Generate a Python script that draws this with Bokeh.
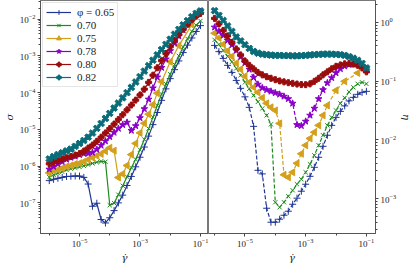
import numpy as np
from bokeh.plotting import figure
from bokeh.layouts import row
from bokeh.models import FixedTicker, Range1d
from bokeh.embed import file_html
from bokeh.resources import INLINE

# shear rates (common grid) and the sparser grid of phi = 0.75
gamma = [1.00e-6, 1.39e-6, 1.93e-6, 2.68e-6, 3.73e-6, 5.18e-6, 7.20e-6,
         1.00e-5, 1.39e-5, 1.93e-5, 2.68e-5, 3.73e-5, 5.18e-5, 7.20e-5,
         1.00e-4, 1.39e-4, 1.93e-4, 2.68e-4, 3.73e-4, 5.18e-4, 7.20e-4,
         1.00e-3, 1.39e-3, 1.93e-3, 2.68e-3, 3.73e-3, 5.18e-3, 7.20e-3,
         1.00e-2, 1.39e-2, 1.93e-2, 2.68e-2, 3.73e-2, 5.18e-2, 7.20e-2,
         1.00e-1]
gamma_075 = [1.00e-6, 1.39e-6, 1.93e-6, 2.68e-6, 3.73e-6, 5.18e-6, 7.20e-6,
             1.00e-5, 1.39e-5, 1.93e-5, 2.68e-5, 3.73e-5, 5.18e-5, 7.20e-5,
             1.00e-4, 1.39e-4, 1.93e-4, 2.68e-4, 3.73e-4, 5.18e-4, 7.20e-4,
             1.00e-3, 1.39e-3, 1.93e-3, 2.68e-3, 3.73e-3, 5.18e-3,
             1.00e-2, 1.93e-2, 5.18e-2]

# viscosity eta (right panel); stress sigma = gamma * eta (left panel)
eta_065 = [0.406, 0.318, 0.244, 0.186, 0.141, 0.103, 0.0755, 0.0541, 0.0358, 0.0170,
           0.00304, 0.00264, 0.000687, 0.000397, 0.000397, 0.000447, 0.000522, 0.000611,
           0.000803, 0.00102, 0.00134, 0.00176, 0.00240, 0.00342, 0.00506, 0.00778,
           0.0120, 0.0177, 0.0242, 0.0306, 0.0380, 0.0462, 0.0530, 0.0597, 0.0645, 0.0671]
eta_070 = [0.504, 0.423, 0.334, 0.264, 0.213, 0.165, 0.126, 0.0955, 0.0740, 0.0574,
           0.0445, 0.0344, 0.0262, 0.0184, 0.000869, 0.000714, 0.000869, 0.00110,
           0.00139, 0.00176, 0.00214, 0.00281, 0.00385, 0.00547, 0.00809, 0.0120,
           0.0177, 0.0242, 0.0318, 0.0419, 0.0520, 0.0658, 0.0785, 0.0900, 0.0955, 0.0900]
eta_075 = [0.655, 0.545, 0.423, 0.327, 0.264, 0.202, 0.159, 0.121, 0.0955, 0.0785,
           0.0645, 0.0520, 0.0419, 0.0358, 0.0318, 0.0191, 0.00255, 0.00231, 0.00281,
           0.00400, 0.00581, 0.00809, 0.0106, 0.0135, 0.0177, 0.0262, 0.0387,
           0.0698, 0.0993, 0.138]
eta_078 = [0.828, 0.703, 0.601, 0.494, 0.414, 0.334, 0.259, 0.205, 0.159, 0.116,
           0.0883, 0.0769, 0.0711, 0.0671, 0.0632, 0.0597, 0.0551, 0.0500, 0.0419, 0.0181,
           0.0174, 0.0207, 0.0262, 0.0344, 0.0500, 0.0711, 0.0935, 0.114, 0.138, 0.162,
           0.180, 0.191, 0.195, 0.193, 0.182, 0.162]
eta_080 = [1.17, 0.942, 0.731, 0.589, 0.457, 0.354, 0.280, 0.221, 0.186, 0.162,
           0.141, 0.128, 0.119, 0.112, 0.106, 0.101, 0.0973, 0.0942, 0.0918, 0.0893,
           0.0875, 0.0872, 0.0900, 0.0993, 0.112, 0.128, 0.144, 0.162, 0.179, 0.189,
           0.197, 0.199, 0.195, 0.186, 0.168, 0.144]
eta_082 = [1.58, 1.32, 1.08, 0.871, 0.703, 0.566, 0.484, 0.418, 0.361, 0.321,
           0.299, 0.288, 0.282, 0.278, 0.275, 0.275, 0.272, 0.272, 0.270, 0.270,
           0.272, 0.275, 0.279, 0.282, 0.286, 0.288, 0.289, 0.288, 0.286, 0.282,
           0.275, 0.262, 0.246, 0.226, 0.201, 0.168]

labels = ["φ = 0.65", "0.70", "0.75", "0.78", "0.80", "0.82"]
series = [(gamma, eta_065), (gamma, eta_070), (gamma_075, eta_075),
          (gamma, eta_078), (gamma, eta_080), (gamma, eta_082)]
colors = ["#1f3594", "#1d8a1d", "#d4a01c", "#8a00c8", "#9a0c0c", "#0a6c78"]
markers = [("cross", 0.0, 7), ("x", 0.0, 6), ("triangle", np.pi / 2, 7),
           ("star", 0.0, 7), ("plus", 0.0, 6), ("plus", np.pi / 4, 7)]

x_ticks = [1e-5, 1e-3, 1e-1]
x_minor = [1e-6, 1e-4, 1e-2]
ys_ticks = [1e-7, 1e-6, 1e-5, 1e-4, 1e-3, 1e-2]
ye_ticks = [1e-3, 1e-2, 1e-1, 1e0]

FONT = "Liberation Serif"
LABEL_FONT = "DejaVu Serif"


def minor_list(lo, hi):
    out = []
    for e in range(lo, hi):
        for m in range(2, 10):
            out.append(m * 10.0 ** e)
    return out


def style(p):
    p.xgrid.visible = False
    p.ygrid.visible = False
    p.outline_line_color = "#555555"
    p.outline_line_width = 0.8
    p.background_fill_color = "white"
    p.border_fill_color = "white"
    for ax in p.xaxis + p.yaxis:
        ax.major_label_text_font = FONT
        ax.major_label_text_font_size = "9px"
        ax.major_label_text_color = "#222222"
        ax.axis_label_text_font = LABEL_FONT
        ax.axis_label_text_font_style = "italic"
        ax.axis_label_text_font_size = "10px"
        ax.axis_label_text_color = "#222222"
        ax.axis_label_standoff = 2
        ax.major_tick_in = 0
        ax.major_tick_out = 3
        ax.minor_tick_in = 0
        ax.minor_tick_out = 2
        ax.axis_line_color = "#555555"
        ax.major_tick_line_color = "#444444"
        ax.minor_tick_line_color = "#444444"
        ax.major_label_standoff = 2


p1 = figure(x_axis_type="log", y_axis_type="log",
            x_range=Range1d(10 ** -6.29, 10 ** -0.735),
            y_range=Range1d(10 ** -7.83, 10 ** -1.49),
            frame_width=168, frame_height=233,
            min_border_left=32, min_border_right=0, min_border_top=0, min_border_bottom=30,
            toolbar_location=None, output_backend="svg")
p2 = figure(x_axis_type="log", y_axis_type="log", y_axis_location="right",
            x_range=Range1d(10 ** -6.20, 10 ** -0.70),
            y_range=Range1d(10 ** -3.593, 10 ** 0.373),
            frame_width=167, frame_height=233,
            min_border_left=0, min_border_right=28, min_border_top=0, min_border_bottom=30,
            toolbar_location=None, output_backend="svg")

for (g, eta), lab, col, (mk, ang, sz) in zip(series, labels, colors, markers):
    g = np.array(g)
    eta = np.array(eta)
    sigma = g * eta
    p1.line(g, sigma, line_color=col, line_width=1.2, legend_label=lab)
    p1.scatter(g, sigma, marker=mk, angle=ang, size=sz, line_color=col,
               fill_color=col, line_width=1.0, legend_label=lab)
    p2.line(g, eta, line_color=col, line_width=1.2, line_dash="4 2")
    p2.scatter(g, eta, marker=mk, angle=ang, size=sz, line_color=col,
               fill_color=col, line_width=1.0)

p1.xaxis.ticker = FixedTicker(ticks=x_ticks, minor_ticks=x_minor)
p2.xaxis.ticker = FixedTicker(ticks=x_ticks, minor_ticks=x_minor)
p1.yaxis.ticker = FixedTicker(ticks=ys_ticks, minor_ticks=minor_list(-8, -1))
p2.yaxis.ticker = FixedTicker(ticks=ye_ticks, minor_ticks=minor_list(-4, 1))

p1.xaxis.axis_label = "γ̇"
p2.xaxis.axis_label = "γ̇"
p1.yaxis.axis_label = "σ"
p2.yaxis.axis_label = "η"

style(p1)
style(p2)

lg = p1.legend[0]
lg.location = "top_left"
lg.margin = 2
lg.padding = 3
lg.spacing = 1
lg.glyph_width = 25
lg.glyph_height = 12
lg.label_height = 12
lg.label_standoff = 6
lg.label_text_font = FONT
lg.label_text_font_size = "11px"
lg.label_text_color = "#222222"
lg.border_line_color = "#cccccc"
lg.border_line_width = 1
lg.background_fill_alpha = 0.85

layout = row(p1, p2)
open("out.html", "w").write(file_html(layout, INLINE))
